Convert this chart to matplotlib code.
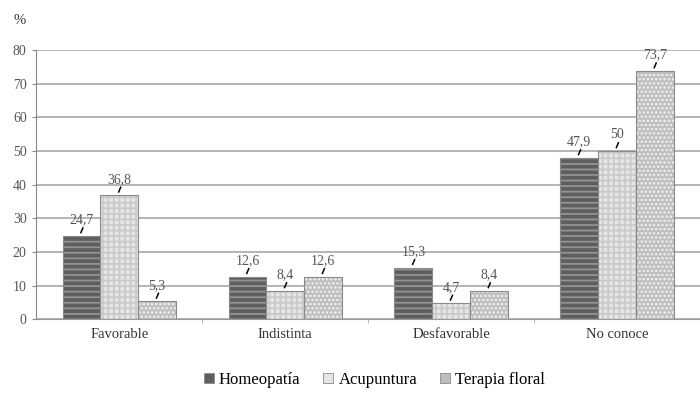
import numpy as np
import matplotlib
matplotlib.use("Agg")
import matplotlib.pyplot as plt
from matplotlib.patches import Patch

plt.rcParams['font.family'] = ['Liberation Serif', 'DejaVu Serif']

categories = ["Favorable", "Indistinta", "Desfavorable", "No conoce"]
series = ["Homeopatía", "Acupuntura", "Terapia floral"]
homeopatia = [24.7, 12.6, 15.3, 47.9]
acupuntura = [36.8, 8.4, 4.7, 50]
terapia_floral = [5.3, 12.6, 8.4, 73.7]
yticks = [0, 10, 20, 30, 40, 50, 60, 70, 80]

values = [homeopatia, acupuntura, terapia_floral]
faces = ["#5e5e5e", "#e6e6e6", "#bdbdbd"]
hatch_cols = ["#939393", "#cacaca", "#f0f0f0"]
hatches = ["---", "+++", "...."]

fig = plt.figure(figsize=(7, 3.99), dpi=100)
ax = fig.add_axes([0.052, 0.2, 0.948, 0.675])
plt.rcParams['hatch.linewidth'] = 1.3

x = np.arange(len(categories))
w = 0.228
for i, vals in enumerate(values):
    pos = x + (i - 1) * w
    ax.bar(pos, vals, w, color=faces[i], edgecolor=hatch_cols[i], hatch=hatches[i],
           linewidth=0, zorder=3)
    ax.bar(pos, vals, w, facecolor="none", edgecolor="#8a8a8a", linewidth=0.8, zorder=4)
    for p, v in zip(pos, vals):
        ax.plot([p - 0.004, p + 0.008], [v + 1.0, v + 2.4], color="black", lw=1.1, zorder=5)
        ax.text(p, v + 2.8, ("%g" % v).replace(".", ","), ha="center", va="bottom",
                fontsize=10, color="#555555", zorder=5)

ax.set_xlim(-0.5, 3.5)
ax.set_ylim(0, 80)
ax.set_yticks(yticks)
ax.set_yticklabels([str(t) for t in yticks], fontsize=10, color="#555555")
ax.set_xticks(x)
ax.set_xticklabels(categories, fontsize=10.5, color="#333333")
ax.tick_params(axis="x", length=0, pad=6)
ax.tick_params(axis="y", length=3, color="#888888", pad=4)
ax.set_xticks(x[:-1] + 0.5, minor=True)
ax.tick_params(axis="x", which="minor", length=3, color="#aaaaaa")
ax.grid(axis="y", color="#a8a8a8", lw=1.2, zorder=0)
for s in ["top", "right"]:
    ax.spines[s].set_visible(False)
ax.spines["left"].set_color("#888888")
ax.spines["bottom"].set_color("#999999")

fig.text(0.02, 0.94, "%", fontsize=10.5, color="#333333")

handles = [Patch(facecolor=faces[i], edgecolor="#8a8a8a", lw=0.6) for i in range(3)]
fig.legend(handles, series, loc="center", bbox_to_anchor=(0.535, 0.048), ncol=3,
           frameon=False, fontsize=12, handlelength=0.6, handleheight=0.6,
           handletextpad=0.3, columnspacing=1.4)

fig.savefig("out.png", dpi=100)
